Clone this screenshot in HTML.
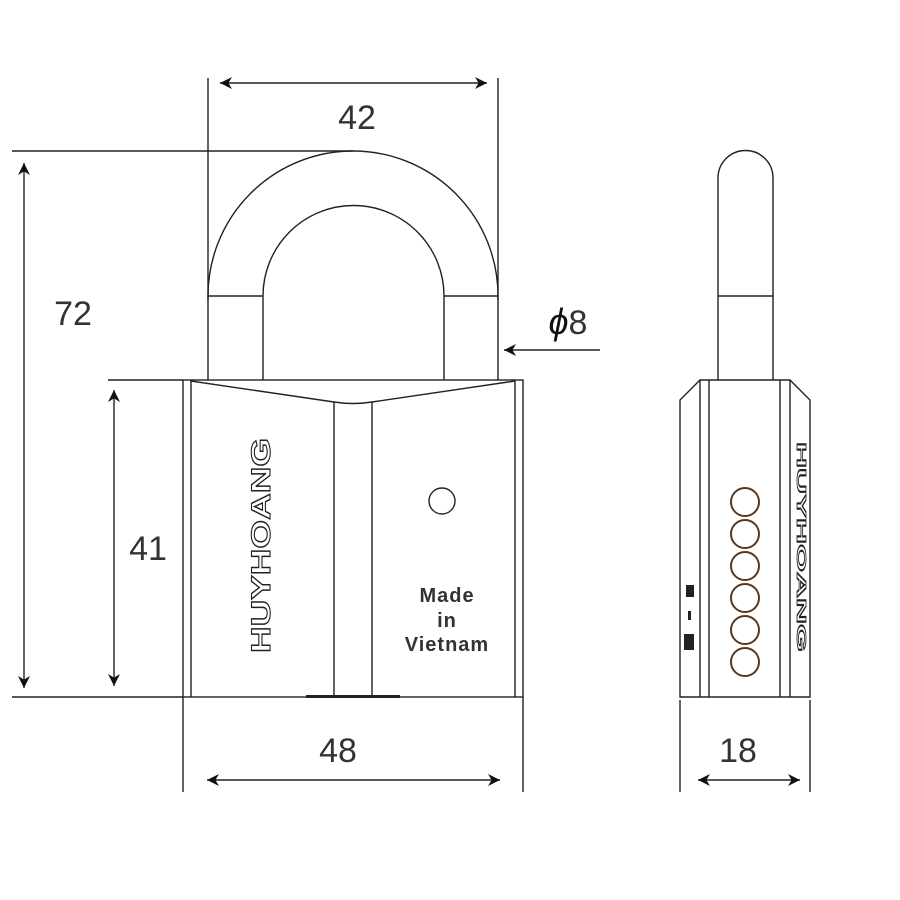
<!DOCTYPE html>
<html><head><meta charset="utf-8"><style>html,body{margin:0;padding:0;background:#fff}svg{display:block}</style></head>
<body>
<svg width="900" height="900" viewBox="0 0 900 900" xmlns="http://www.w3.org/2000/svg" font-family="Liberation Sans, sans-serif">
<defs>
<marker id="a" viewBox="0 0 10 10" refX="10" refY="5" markerWidth="17" markerHeight="12" markerUnits="userSpaceOnUse" orient="auto-start-reverse"><path d="M0,0 L10,5 L0,10 L3,5 z" fill="#111"/></marker>
</defs>
<g stroke="#222" stroke-width="1.4" fill="none">
<line x1="208" y1="78" x2="208" y2="300"/>
<line x1="498" y1="78" x2="498" y2="300"/>
<line x1="12" y1="151" x2="353" y2="151"/>
<line x1="12" y1="697" x2="183" y2="697"/>
<line x1="108" y1="380" x2="183" y2="380"/>
<line x1="183" y1="697" x2="183" y2="792"/>
<line x1="523" y1="697" x2="523" y2="792"/>
<line x1="680" y1="700" x2="680" y2="792"/>
<line x1="810" y1="700" x2="810" y2="792"/>
<line x1="220" y1="83" x2="487" y2="83" marker-start="url(#a)" marker-end="url(#a)"/>
<line x1="24" y1="163" x2="24" y2="688" marker-start="url(#a)" marker-end="url(#a)"/>
<line x1="114" y1="390" x2="114" y2="686" marker-start="url(#a)" marker-end="url(#a)"/>
<line x1="207" y1="780" x2="500" y2="780" marker-start="url(#a)" marker-end="url(#a)"/>
<line x1="698" y1="780" x2="800" y2="780" marker-start="url(#a)" marker-end="url(#a)"/>
<line x1="600" y1="350" x2="504" y2="350" marker-end="url(#a)"/>
<path d="M208,380 L208,296 A145,145 0 0 1 498,296 L498,380"/>
<path d="M263,380 L263,296 A90.5,90.5 0 0 1 444,296 L444,380"/>
<line x1="208" y1="296" x2="263" y2="296"/>
<line x1="444" y1="296" x2="498" y2="296"/>
<rect x="183" y="380" width="340" height="317"/>
<line x1="191" y1="380" x2="191" y2="697"/>
<line x1="515" y1="380" x2="515" y2="697"/>
<path d="M191,381 L334,402 Q353,405 372,402 L515,381"/>
<line x1="334" y1="402" x2="334" y2="697"/>
<line x1="372" y1="402" x2="372" y2="697"/>
<circle cx="442" cy="501" r="13"/>
<path d="M718,380 L718,178 A27.5,27.5 0 0 1 773,178 L773,380"/>
<line x1="718" y1="296" x2="773" y2="296"/>
<path d="M700,380 L790,380 L810,400 L810,697 L680,697 L680,400 Z"/>
<line x1="700" y1="380" x2="700" y2="697"/>
<line x1="709" y1="380" x2="709" y2="697"/>
<line x1="780" y1="380" x2="780" y2="697"/>
<line x1="790" y1="380" x2="790" y2="697"/>
</g>
<rect x="306" y="695" width="94" height="3" fill="#222"/>
<g stroke="#5a3a1a" stroke-width="2" fill="none">
<circle cx="745" cy="502" r="14"/><circle cx="745" cy="534" r="14"/><circle cx="745" cy="566" r="14"/>
<circle cx="745" cy="598" r="14"/><circle cx="745" cy="630" r="14"/><circle cx="745" cy="662" r="14"/>
</g>
<text x="797" y="442" transform="rotate(90 797 442)" font-size="13" font-weight="bold" fill="#fff" stroke="#222" stroke-width="0.8" textLength="210" lengthAdjust="spacingAndGlyphs">HUYHOANG</text>
<rect x="686" y="585" width="8" height="12" fill="#222"/><rect x="688" y="611" width="3" height="9" fill="#222"/><rect x="684" y="634" width="10" height="16" fill="#222"/>
<g fill="#333" font-size="34" text-anchor="middle">
<text x="357" y="129">42</text>
<text x="73" y="325">72</text>
<text x="148" y="560">41</text>
<text x="338" y="762">48</text>
<text x="738" y="762">18</text>
<text x="568" y="334"><tspan font-size="36" font-style="italic" fill="#111">ϕ</tspan>8</text>
</g>
<text x="270" y="653" transform="rotate(-90 270 653)" font-size="27" font-weight="bold" fill="#fff" stroke="#222" stroke-width="1.1" textLength="215" lengthAdjust="spacingAndGlyphs">HUYHOANG</text>
<g fill="#333" font-size="20" font-weight="bold" text-anchor="middle" letter-spacing="1">
<text x="447" y="602">Made</text>
<text x="447" y="627">in</text>
<text x="447" y="651">Vietnam</text>
</g>
</svg>
</body></html>
